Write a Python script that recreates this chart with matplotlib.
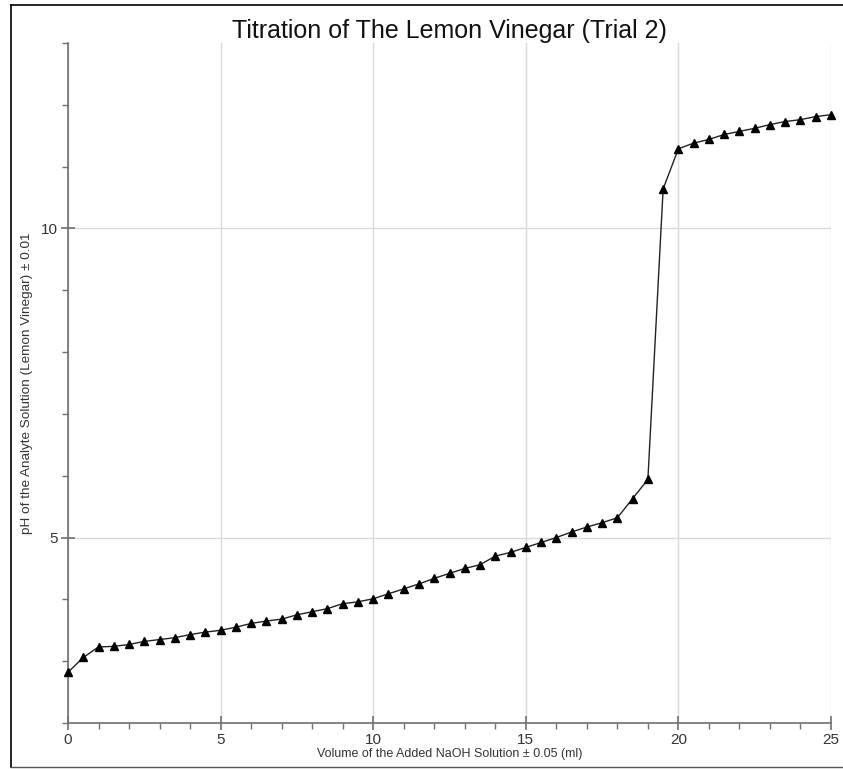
import matplotlib
matplotlib.use("Agg")
import matplotlib.pyplot as plt
from matplotlib.lines import Line2D

plt.rcParams['font.family'] = ['Liberation Sans', 'DejaVu Sans']

# volume of NaOH added (ml) and measured pH
volume = [0.0, 0.5, 1.0, 1.5, 2.0, 2.5, 3.0, 3.5, 4.0, 4.5,
          5.0, 5.5, 6.0, 6.5, 7.0, 7.5, 8.0, 8.5, 9.0, 9.5,
          10.0, 10.5, 11.0, 11.5, 12.0, 12.5, 13.0, 13.5, 14.0, 14.5,
          15.0, 15.5, 16.0, 16.5, 17.0, 17.5, 18.0, 18.5, 19.0, 19.5,
          20.0, 20.5, 21.0, 21.5, 22.0, 22.5, 23.0, 23.5, 24.0, 24.5, 25.0]
ph = [2.82, 3.06, 3.23, 3.24, 3.27, 3.32, 3.35, 3.38, 3.43, 3.47,
      3.50, 3.55, 3.61, 3.65, 3.68, 3.75, 3.80, 3.85, 3.93, 3.96,
      4.01, 4.09, 4.17, 4.25, 4.34, 4.42, 4.50, 4.56, 4.70, 4.76,
      4.84, 4.92, 5.00, 5.09, 5.17, 5.24, 5.32, 5.63, 5.94, 10.64,
      11.29, 11.38, 11.44, 11.52, 11.57, 11.62, 11.68, 11.73, 11.76, 11.81, 11.84]

fig = plt.figure(figsize=(8.43, 7.69), dpi=100)
ax = fig.add_axes([68 / 843, 1 - 723 / 769, (831 - 68) / 843, (723 - 43) / 769])

ax.plot(volume, ph, color='#222222', lw=1.0, marker='^', markersize=6,
        markerfacecolor='black', markeredgecolor='black', clip_on=False, zorder=3)

ax.set_xlim(0, 25)
ax.set_ylim(2, 13)
ax.set_xticks([0, 5, 10, 15, 20, 25])
ax.set_yticks([5, 10])
ax.set_xticks(range(0, 26), minor=True)
ax.set_yticks(range(2, 14), minor=True)
ax.grid(True, which='major', color='#dadada', lw=1.0)
ax.set_axisbelow(True)

for side in ['top', 'right']:
    ax.spines[side].set_visible(False)
for side in ['left', 'bottom']:
    ax.spines[side].set_color('#707070')
    ax.spines[side].set_linewidth(1.2)

ax.tick_params(which='major', direction='inout', length=10, width=1.2,
               color='#707070', labelsize=11, labelcolor='#333333', pad=2)
ax.tick_params(which='minor', direction='out', length=4, width=1.0, color='#707070')

ax.set_title('Titration of The Lemon Vinegar (Trial 2)', fontsize=18, color='#111111', pad=3)
ax.set_xlabel('Volume of the Added NaOH Solution \u00b1 0.05 (ml)', fontsize=9, color='#333333', labelpad=1)
ax.set_ylabel('pH of the Analyte Solution (Lemon Vinegar) \u00b1 0.01', fontsize=9.7, color='#333333', labelpad=6)

# frame lines around the picture (left, top, bottom)
fig.add_artist(Line2D([11 / 843, 11 / 843], [1 - 5 / 769, 1 - 767 / 769], transform=fig.transFigure, color='black', lw=1.2))
fig.add_artist(Line2D([11 / 843, 1.0], [1 - 5 / 769, 1 - 5 / 769], transform=fig.transFigure, color='black', lw=1.2))
fig.add_artist(Line2D([11 / 843, 1.0], [1 - 767 / 769, 1 - 767 / 769], transform=fig.transFigure, color='#555555', lw=1.0))

fig.savefig('out.png', dpi=100)
plt.close(fig)
